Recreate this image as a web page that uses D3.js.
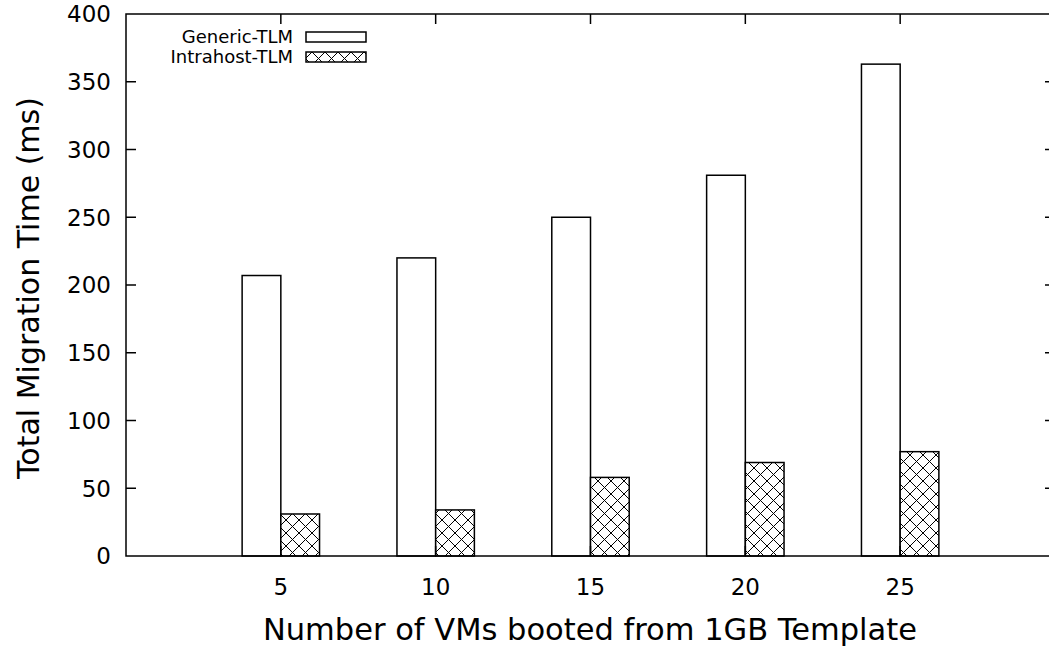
<!DOCTYPE html>
<html>
<head>
<meta charset="utf-8">
<script src="https://cdn.jsdelivr.net/npm/d3@7"></script>
<style>
  html, body { margin: 0; padding: 0; background: #fff; }
  svg { display: block; font-family: "DejaVu Sans", sans-serif; }
</style>
</head>
<body>
<svg id="chart" width="1049" height="648"></svg>
<script>
// Number of VMs booted from a 1GB template
const vmCounts = ["5", "10", "15", "20", "25"];
// Total migration time (ms) for each approach
const genericTLM = [207, 220, 250, 281, 363];
const intrahostTLM = [31, 34, 58, 69, 77];
const seriesNames = ["Generic-TLM", "Intrahost-TLM"];
const yTicks = [0, 50, 100, 150, 200, 250, 300, 350, 400];

const svg = d3.select("#chart");
const plotLeft = 126, plotRight = 1055, plotTop = 14, plotBottom = 556;

// hatch pattern for the second series
const defs = svg.append("defs");
const pat = defs.append("pattern")
  .attr("id", "cross")
  .attr("patternUnits", "userSpaceOnUse")
  .attr("width", 13).attr("height", 13);
pat.append("rect").attr("width", 13).attr("height", 13).attr("fill", "#fff");
pat.append("path").attr("d", "M0,0 L13,13 M13,0 L0,13")
  .attr("stroke", "#000").attr("stroke-width", 1).attr("fill", "none");

const x = d3.scaleLinear().domain([-1, vmCounts.length]).range([plotLeft, plotRight]);
const y = d3.scaleLinear().domain([0, 400]).range([plotBottom, plotTop]);
const barW = 0.25;

const plot = svg.append("g");

// bars
const series = [
  { name: seriesNames[0], values: genericTLM, offset: -barW, fill: "#fff" },
  { name: seriesNames[1], values: intrahostTLM, offset: 0, fill: "url(#cross)" }
];
series.forEach(s => {
  plot.selectAll(null).data(s.values).enter().append("rect")
    .attr("x", (d, i) => x(i + s.offset))
    .attr("width", x(barW) - x(0))
    .attr("y", d => y(d))
    .attr("height", d => y(0) - y(d))
    .attr("fill", s.fill)
    .attr("stroke", "#000")
    .attr("stroke-width", 1.5);
});

// y ticks (both sides, inward) and labels
const tickLen = 10;
yTicks.forEach(t => {
  if (t !== 0 && t !== 400) {
    plot.append("line").attr("x1", plotLeft).attr("x2", plotLeft + tickLen)
      .attr("y1", y(t)).attr("y2", y(t)).attr("stroke", "#000").attr("stroke-width", 1.5);
    plot.append("line").attr("x1", plotRight - tickLen).attr("x2", plotRight)
      .attr("y1", y(t)).attr("y2", y(t)).attr("stroke", "#000").attr("stroke-width", 1.5);
  }
  svg.append("text").attr("x", 111).attr("y", y(t)).attr("dy", "0.36em")
    .attr("text-anchor", "end").attr("font-size", 23).text(t);
});

// x ticks and labels
vmCounts.forEach((c, i) => {
  plot.append("line").attr("x1", x(i)).attr("x2", x(i))
    .attr("y1", plotTop).attr("y2", plotTop + tickLen).attr("stroke", "#000").attr("stroke-width", 1.5);
  plot.append("line").attr("x1", x(i)).attr("x2", x(i))
    .attr("y1", plotBottom).attr("y2", plotBottom - tickLen).attr("stroke", "#000").attr("stroke-width", 1.5);
  svg.append("text").attr("x", x(i)).attr("y", 595)
    .attr("text-anchor", "middle").attr("font-size", 23).text(c);
});

// frame
plot.append("rect").attr("x", plotLeft).attr("y", plotTop)
  .attr("width", plotRight - plotLeft).attr("height", plotBottom - plotTop)
  .attr("fill", "none").attr("stroke", "#000").attr("stroke-width", 1.5);

// axis titles
svg.append("text").attr("x", 590).attr("y", 640).attr("text-anchor", "middle")
  .attr("font-size", 30.5).text("Number of VMs booted from 1GB Template");
svg.append("text").attr("transform", "translate(39,288) rotate(-90)")
  .attr("text-anchor", "middle").attr("font-size", 30).text("Total Migration Time (ms)");

// legend
const legend = svg.append("g");
series.forEach((s, i) => {
  const ly = 37 + i * 20;
  legend.append("text").attr("x", 293).attr("y", ly).attr("dy", "0.36em")
    .attr("text-anchor", "end").attr("font-size", 18).text(s.name);
  legend.append("rect").attr("x", 306).attr("y", ly - 5).attr("width", 60).attr("height", 10)
    .attr("fill", s.fill).attr("stroke", "#000").attr("stroke-width", 1.5);
});
</script>
</body>
</html>
